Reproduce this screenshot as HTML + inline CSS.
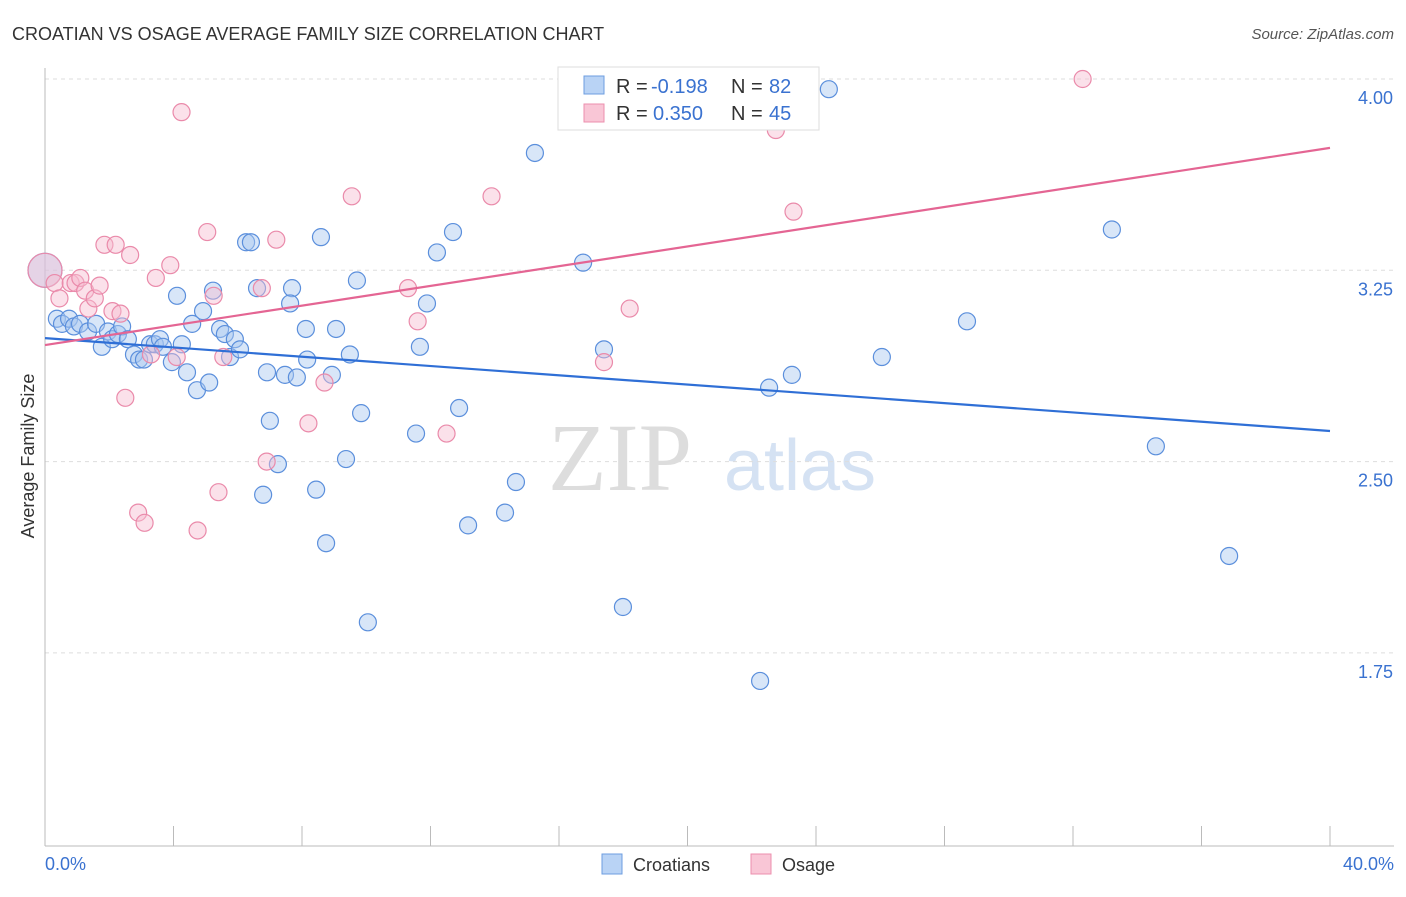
<!DOCTYPE html>
<html><head><meta charset="utf-8"><style>
body{margin:0;background:#fff;font-family:"Liberation Sans",sans-serif}
</style></head><body>
<svg id="chart" width="1406" height="892" xmlns="http://www.w3.org/2000/svg">
<text x="12" y="40" font-size="18" fill="#333">CROATIAN VS OSAGE AVERAGE FAMILY SIZE CORRELATION CHART</text>
<text x="1394" y="39" font-size="15" fill="#555" font-style="italic" text-anchor="end">Source: ZipAtlas.com</text>
<text x="620" y="490" font-size="96" fill="#ddd" font-family="Liberation Serif" text-anchor="middle">ZIP</text>
<text x="800" y="490" font-size="72" fill="#d5e2f3" text-anchor="middle">atlas</text>
<text transform="translate(34,456) rotate(-90)" font-size="18" fill="#333" text-anchor="middle">Average Family Size</text>
<g id="grid"></g><g id="pts"></g><g id="lines"></g>
<g>
<rect x="558" y="67" width="261" height="63" fill="#fff" stroke="#ddd"/>
<rect x="584" y="76" width="20" height="18" fill="#b9d3f5" stroke="#6d9ee0"/>
<rect x="584" y="104" width="20" height="18" fill="#f9c6d6" stroke="#ec8fae"/>
<text x="616" y="93" font-size="20" fill="#333">R =</text>
<text x="651" y="93" font-size="20" fill="#3a72d0">-0.198</text>
<text x="731" y="93" font-size="20" fill="#333">N =</text>
<text x="769" y="93" font-size="20" fill="#3a72d0">82</text>
<text x="616" y="120" font-size="20" fill="#333">R =</text>
<text x="653" y="120" font-size="20" fill="#3a72d0">0.350</text>
<text x="731" y="120" font-size="20" fill="#333">N =</text>
<text x="769" y="120" font-size="20" fill="#3a72d0">45</text>
</g>
<g>
<rect x="602" y="854" width="20" height="20" fill="#b9d3f5" stroke="#6d9ee0"/>
<text x="633" y="871" font-size="18" fill="#333">Croatians</text>
<rect x="751" y="854" width="20" height="20" fill="#f9c6d6" stroke="#ec8fae"/>
<text x="782" y="871" font-size="18" fill="#333">Osage</text>
</g>
<text x="45" y="870" font-size="18" fill="#3a72d0">0.0%</text>
<text x="1394" y="870" font-size="18" fill="#3a72d0" text-anchor="end">40.0%</text>
</svg>
<script>
const yTicks=[4.00,3.25,2.50,1.75];
const xTicks=[0,4,8,12,16,20,24,28,32,36,40];
const blueX=[0,0.37,0.53,0.75,0.9,1.09,1.34,1.59,1.77,1.96,2.09,2.27,2.4,2.58,2.77,2.93,3.08,3.27,3.42,3.58,3.67,3.95,4.11,4.26,4.42,4.58,4.73,4.92,5.11,5.23,5.45,5.6,5.76,5.91,6.07,6.26,6.41,6.6,6.79,6.91,7.0,7.25,7.47,7.69,7.84,7.63,8.12,8.16,8.44,8.59,8.75,8.93,9.06,9.37,9.49,9.71,9.84,10.05,11.55,11.67,11.89,12.2,12.7,12.89,13.17,14.32,14.66,15.25,16.75,17.4,17.99,22.26,22.54,23.25,24.4,26.05,28.7,33.21,34.58,36.86];
const blueY=[3.25,3.06,3.04,3.06,3.03,3.04,3.01,3.04,2.95,3.01,2.98,3.0,3.03,2.98,2.92,2.9,2.9,2.96,2.96,2.98,2.95,2.89,3.15,2.96,2.85,3.04,2.78,3.09,2.81,3.17,3.02,3.0,2.91,2.98,2.94,3.36,3.36,3.18,2.37,2.85,2.66,2.49,2.84,3.18,2.83,3.12,3.02,2.9,2.39,3.38,2.18,2.84,3.02,2.51,2.92,3.21,2.69,1.87,2.61,2.95,3.12,3.32,3.4,2.71,2.25,2.3,2.42,3.71,3.28,2.94,1.93,1.64,2.79,2.84,3.96,2.91,3.05,3.41,2.56,2.13];
const pinkX=[0,0.3,0.45,0.8,0.95,1.1,1.25,1.35,1.55,1.7,1.85,2.1,2.2,2.35,2.5,2.65,2.9,3.1,3.3,3.45,3.9,4.1,4.25,4.75,5.05,5.25,5.4,5.55,6.75,6.9,7.2,8.2,8.7,9.55,11.3,11.6,12.5,13.9,17.4,18.2,22.75,23.3,32.3];
const pinkY=[3.25,3.20,3.14,3.20,3.20,3.22,3.17,3.10,3.14,3.19,3.35,3.09,3.35,3.08,2.75,3.31,2.30,2.26,2.92,3.22,3.27,2.91,3.87,2.23,3.40,3.15,2.38,2.91,3.18,2.50,3.37,2.65,2.81,3.54,3.18,3.05,2.61,3.54,2.89,3.10,3.80,3.48,4.00];
const blueTrend=[2.984,2.62];
const pinkTrend=[2.957,3.73];
const NS='http://www.w3.org/2000/svg';
const X=v=>45+v/40*1285, Y=v=>79+(4-v)/0.75*191.3;
function mk(t,a,p){const e=document.createElementNS(NS,t);for(const k in a)e.setAttribute(k,a[k]);p.appendChild(e);return e;}
const grid=document.getElementById('grid');
yTicks.forEach(t=>{
 const l=mk('line',{x1:45,x2:1394,y1:Y(t),y2:Y(t),stroke:'#ddd','stroke-dasharray':'4,4'},grid);
 
 
 const tx=mk('text',{x:1393,y:Y(t)+25,'font-size':18,fill:'#3a72d0','text-anchor':'end'},grid);
 tx.textContent=t.toFixed(2);
 
 
});
mk('line',{x1:45,x2:45,y1:68,y2:846,stroke:'#bbb'},grid);
mk('line',{x1:45,x2:1394,y1:846,y2:846,stroke:'#bbb'},grid);
xTicks.forEach(t=>{
 const l=mk('line',{x1:X(t),x2:X(t),y1:826,y2:846,stroke:'#bbb'},grid);
 
 
});
const pts=document.getElementById('pts');
function dots(xs,ys,fill,stroke,name){
 xs.forEach((x,i)=>{
  const c=mk('circle',{cx:X(x),cy:Y(ys[i]),r:i===0?17:8.5,fill:fill,'fill-opacity':0.45,stroke:stroke,'stroke-width':1.2},pts);
  
  
 });
}
dots(blueX,blueY,'#a9c8f0','#5b8fdc','croatian-point');
dots(pinkX,pinkY,'#f7bcd0','#ea8aaa','osage-point');
const lines=document.getElementById('lines');
[[blueTrend,'#2f6fd6','croatian-trend-line'],[pinkTrend,'#e46593','osage-trend-line']].forEach(([tr,c,n])=>{
 const l=mk('line',{x1:X(0),y1:Y(tr[0]),x2:X(40),y2:Y(tr[1]),stroke:c,'stroke-width':2.2},lines);
 
 
});
</script>
</body></html>
